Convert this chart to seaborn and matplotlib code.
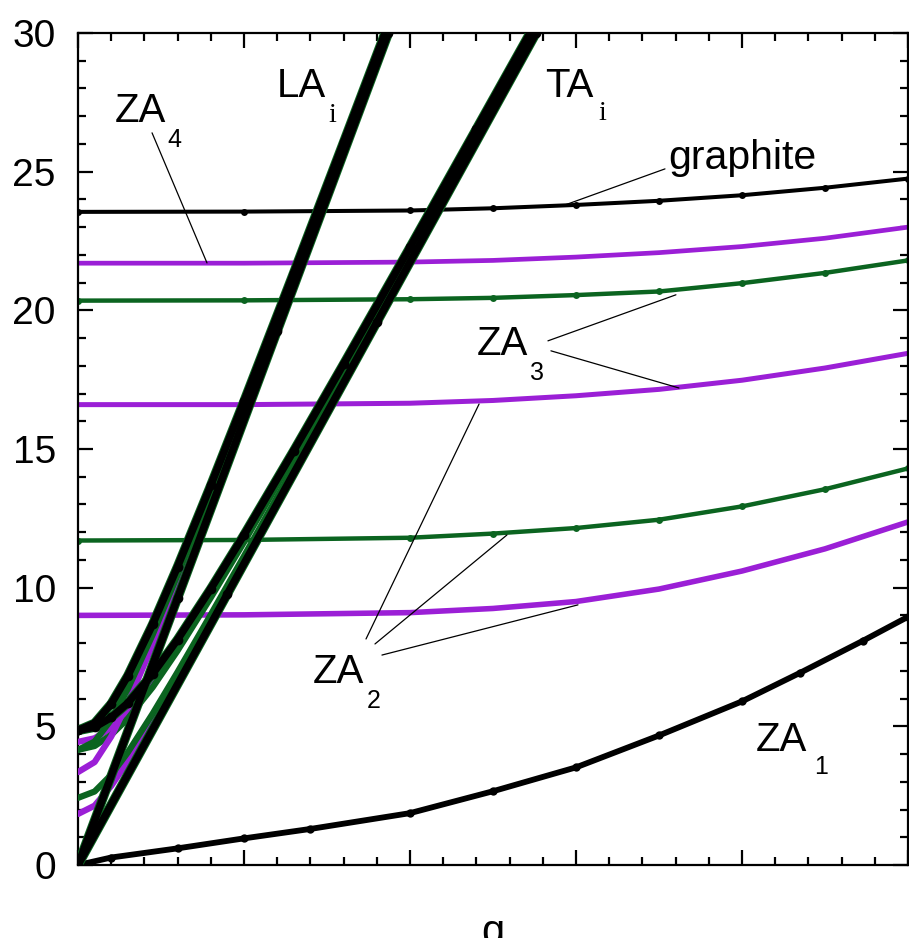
import matplotlib
matplotlib.use("Agg")
import matplotlib.pyplot as plt
from matplotlib.ticker import MultipleLocator, NullFormatter
import seaborn as sns

# ---------------- data ----------------
# flat ZA branches and graphite
q_flat = [0, 1, 2, 2.5, 3, 3.5, 4, 4.5, 5]
w_graphite = [23.55, 23.56, 23.6, 23.68, 23.8, 23.95, 24.15, 24.42, 24.75]
w_za4_purple = [21.7, 21.7, 21.74, 21.8, 21.92, 22.08, 22.3, 22.6, 23.0]
w_za3_green = [20.35, 20.36, 20.4, 20.45, 20.55, 20.68, 20.98, 21.35, 21.8]
w_za3_purple = [16.6, 16.6, 16.65, 16.75, 16.92, 17.15, 17.48, 17.92, 18.45]
w_za2_green = [11.7, 11.72, 11.8, 11.95, 12.15, 12.45, 12.93, 13.55, 14.3]
w_za2_purple = [9.0, 9.02, 9.1, 9.25, 9.5, 9.95, 10.6, 11.4, 12.37]

# ZA1 branch
q_za1 = [0, 0.2, 0.6, 1.0, 1.4, 2.0, 2.5, 3.0, 3.5, 4.0, 4.35, 4.73, 5.0]
w_za1 = [0, 0.27, 0.6, 0.96, 1.3, 1.87, 2.66, 3.52, 4.67, 5.9, 6.93, 8.09, 8.95]

# LA band
q_la0 = [0, 0.6, 1.2, 1.87]
w_la0 = [0, 9.63, 19.26, 30.0]
q_la = [0, 0.1, 0.2, 0.3, 0.45, 0.6, 0.8, 1.0, 1.3, 1.6, 1.85]
w_la_black = [4.85, 5.11, 5.81, 6.82, 8.68, 10.76, 13.69, 16.72, 21.36, 26.06, 30.0]
w_la_green = [4.15, 4.45, 5.24, 6.35, 8.31, 10.46, 13.46, 16.53, 21.21, 25.93, 29.89]
w_la_purple = [3.35, 3.71, 4.63, 5.85, 7.94, 10.17, 13.23, 16.35, 21.07, 25.82, 29.79]

# TA band
q_ta0 = [0, 0.9, 1.8, 2.76]
w_ta0 = [0, 9.78, 19.57, 30.0]
q_ta = [0, 0.1, 0.2, 0.3, 0.45, 0.6, 0.8, 1.0, 1.3, 1.6, 2.0, 2.4, 2.72]
w_ta_black = [4.85, 4.97, 5.32, 5.84, 6.89, 8.13, 9.96, 11.90, 14.94, 18.06, 22.27, 26.54, 29.96]
w_ta_purple1 = [4.44, 4.57, 4.94, 5.51, 6.61, 7.89, 9.76, 11.74, 14.81, 17.95, 22.19, 26.46, 29.90]
w_ta_green1 = [4.15, 4.29, 4.69, 5.28, 6.41, 7.73, 9.64, 11.64, 14.73, 17.88, 22.13, 26.42, 29.86]
w_ta_green2 = [2.42, 2.65, 3.25, 4.06, 5.46, 6.96, 9.03, 11.14, 14.34, 17.56, 21.87, 26.2, 29.67]
w_ta_purple2 = [1.84, 2.14, 2.85, 3.74, 5.23, 6.78, 8.89, 11.03, 14.25, 17.49, 21.82, 26.15, 29.62]

y_ticks = [0, 5, 10, 15, 20, 25, 30]
y_tick_labels = ["0", "5", "10", "15", "20", "25", "30"]

PURPLE = "#9B1FD6"
GREEN = "#0B6420"
BLACK = "#000000"

# ---------------- figure ----------------
sns.set_style("ticks")
plt.rcParams["font.family"] = ["Liberation Sans", "DejaVu Sans"]
plt.rcParams["text.color"] = "black"
plt.rcParams["axes.labelcolor"] = "black"
plt.rcParams["xtick.color"] = "black"
plt.rcParams["ytick.color"] = "black"
plt.rcParams["axes.edgecolor"] = "black"

fig = plt.figure(figsize=(9.09, 9.38), dpi=100)
ax = fig.add_axes([78 / 909, 73 / 938, 830 / 909, 832 / 938])


def line(x, y, color, lw, z, marker=None, ms=0):
    sns.lineplot(x=x, y=y, ax=ax, color=color, linewidth=lw, sort=False,
                 estimator=None, legend=False, zorder=z,
                 marker=marker, markersize=ms, markeredgewidth=0,
                 solid_capstyle="round")


# flat ZA branches
line(q_flat, w_za2_purple, PURPLE, 4.0, 2)
line(q_flat, w_za3_purple, PURPLE, 3.6, 2)
line(q_flat, w_za4_purple, PURPLE, 3.4, 2)
line(q_flat, w_za2_green, GREEN, 3.2, 2, "o", 5)
line(q_flat, w_za3_green, GREEN, 3.2, 2, "o", 5)
line(q_flat, w_graphite, BLACK, 2.9, 2, "o", 5)
line(q_za1, w_za1, BLACK, 4.2, 3, "o", 6)

# coloured branches of the bands
for w, c in [(w_ta_purple2, PURPLE), (w_ta_green2, GREEN),
             (w_ta_purple1, PURPLE), (w_ta_green1, GREEN)]:
    line(q_ta, w, c, 4.5, 3)
for w, c in [(w_la_purple, PURPLE), (w_la_green, GREEN)]:
    line(q_la, w, c, 4.5, 3)

# black band lines with green rim
for x, y in [(q_ta0, w_ta0), (q_ta, w_ta_black), (q_la0, w_la0), (q_la, w_la_black)]:
    line(x, y, GREEN, 6.8, 4)
    line(x, y, BLACK, 5.4, 5, "o", 7)

# ---------------- axes styling ----------------
ax.set_xlim(0, 5)
ax.set_ylim(0, 30)
ax.xaxis.set_major_locator(MultipleLocator(1))
ax.xaxis.set_minor_locator(MultipleLocator(0.2))
ax.xaxis.set_major_formatter(NullFormatter())
ax.set_yticks(y_ticks)
ax.set_yticklabels(y_tick_labels)
ax.yaxis.set_minor_locator(MultipleLocator(1))
ax.tick_params(which="both", direction="in", top=True, right=True,
               width=1.6, colors="black")
ax.tick_params(which="major", length=11)
ax.tick_params(which="minor", length=6)
ax.tick_params(axis="y", which="major", labelsize=28, pad=16,
               labelcolor="black")
for s in ax.spines.values():
    s.set_linewidth(1.6)
    s.set_color("black")
    s.set_visible(True)
ax.set_xlabel("")
ax.set_ylabel("")

fig.text(0.5424, -0.006, "q", ha="center", va="baseline", fontsize=30,
         color="black")

# ---------------- labels ----------------
big = 29
sub = 18
serif = ["Liberation Serif", "DejaVu Serif"]
kw = dict(ha="left", va="baseline", zorder=6, color="black")
ax.text(0.223, 26.79, "ZA", fontsize=big, **kw)
ax.text(0.536, 25.89, "4", fontsize=sub, **kw)
ax.text(1.199, 27.70, "LA", fontsize=big, **kw)
ax.text(1.506, 26.79, "i", fontsize=20, family=serif, **kw)
ax.text(2.813, 27.70, "TA", fontsize=big, **kw)
ax.text(3.133, 26.87, "i", fontsize=20, family=serif, **kw)
ax.text(3.554, 25.10, "graphite", fontsize=29.5, **kw)
ax.text(2.404, 18.39, "ZA", fontsize=big, **kw)
ax.text(2.723, 17.49, "3", fontsize=sub, **kw)
ax.text(1.416, 6.56, "ZA", fontsize=big, **kw)
ax.text(1.741, 5.66, "2", fontsize=sub, **kw)
ax.text(4.084, 4.11, "ZA", fontsize=big, **kw)
ax.text(4.434, 3.28, "1", fontsize=sub, **kw)

leaders = [
    ((0.446, 26.40), (0.777, 21.71)),
    ((3.536, 25.10), (2.934, 23.80)),
    ((2.831, 18.90), (3.602, 20.56)),
    ((2.849, 18.54), (3.620, 17.20)),
    ((1.735, 8.15), (2.416, 16.62)),
    ((1.789, 7.97), (2.584, 11.90)),
    ((1.831, 7.57), (3.012, 9.38)),
]
for start, end in leaders:
    ax.annotate("", xy=end, xytext=start,
                arrowprops=dict(arrowstyle="-", color="black", lw=0.9,
                                shrinkA=0, shrinkB=0), zorder=6)

fig.savefig("out.png", dpi=100)
